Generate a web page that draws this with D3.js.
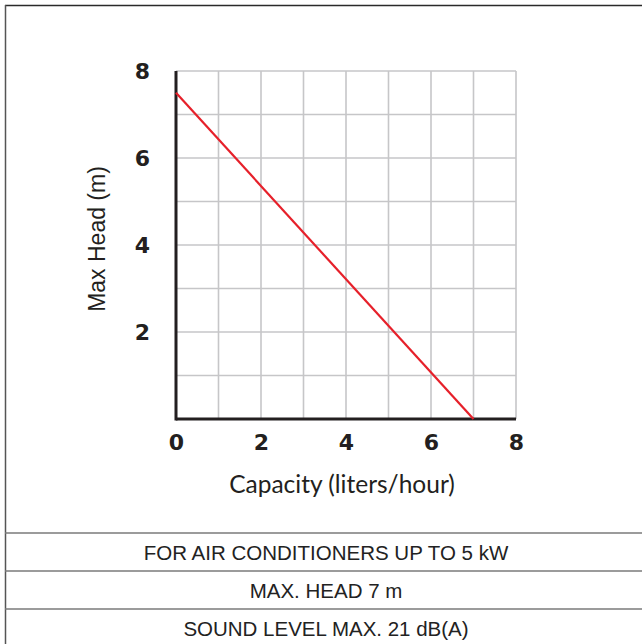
<!DOCTYPE html>
<html><head><meta charset="utf-8">
<script src="https://cdn.jsdelivr.net/npm/d3@7"></script>
<style>body{margin:0;background:#fff}svg{display:block}</style></head>
<body>
<script>
// ---- data ----
const xTickValues = [0, 2, 4, 6, 8];
const yTickValues = [2, 4, 6, 8];
const gridValues = [1, 2, 3, 4, 5, 6, 7, 8];
const capacity = [0, 7];      // liters/hour
const maxHead = [7.5, 0];     // m
const xTitle = "Capacity (liters/hour)";
const yTitle = "Max Head (m)";
const specRows = ["FOR AIR CONDITIONERS UP TO 5 kW", "MAX. HEAD 7 m", "SOUND LEVEL MAX. 21 dB(A)"];

// ---- layout ----
const W = 642, H = 644;
const svg = d3.select("body").append("svg").attr("width", W).attr("height", H);

const x = d3.scaleLinear().domain([0, 8]).range([176, 516]);
const y = d3.scaleLinear().domain([0, 8]).range([419, 71]);

// outer frame
svg.append("line").attr("x1", 5).attr("x2", W).attr("y1", 5.5).attr("y2", 5.5)
  .attr("stroke", "#2a2a2a").attr("stroke-width", 1.5);
svg.append("line").attr("x1", 5.5).attr("x2", 5.5).attr("y1", 5).attr("y2", H)
  .attr("stroke", "#555").attr("stroke-width", 1.5);

// grid
const g = svg.append("g");
g.selectAll("line.vx").data(gridValues).join("line").attr("class", "vx")
  .attr("x1", d => x(d)).attr("x2", d => x(d)).attr("y1", y(8)).attr("y2", y(0))
  .attr("stroke", "#c6c6c8").attr("stroke-width", 1.6);
g.selectAll("line.hy").data(gridValues).join("line").attr("class", "hy")
  .attr("x1", x(0)).attr("x2", x(8)).attr("y1", d => y(d)).attr("y2", d => y(d))
  .attr("stroke", "#c6c6c8").attr("stroke-width", 1.6);

// axes
const tickFont = 22;
const xAxis = d3.axisBottom(x).tickValues(xTickValues).tickSize(0).tickPadding(15);
const yAxis = d3.axisLeft(y).tickValues(yTickValues).tickSize(0).tickPadding(26);
const gx = svg.append("g").attr("transform", `translate(0,${y(0)})`).call(xAxis);
const gy = svg.append("g").attr("transform", `translate(${x(0)},0)`).call(yAxis);
[gx, gy].forEach(a => {
  a.attr("font-size", null).attr("font-family", null);
  a.select(".domain").remove();
  a.selectAll("text")
    .style("font-family", "'DejaVu Sans', sans-serif")
    .style("font-size", tickFont + "px").style("font-weight", "bold").attr("fill", "#231f20");
});
svg.append("line").attr("x1", x(0)).attr("x2", x(0)).attr("y1", y(8)).attr("y2", y(0) + 1.5)
  .attr("stroke", "#231f20").attr("stroke-width", 3);
svg.append("line").attr("x1", x(0)).attr("x2", x(8)).attr("y1", y(0)).attr("y2", y(0))
  .attr("stroke", "#231f20").attr("stroke-width", 3);

// curve
svg.append("path")
  .datum(capacity.map((c, i) => [c, maxHead[i]]))
  .attr("d", d3.line().x(d => x(d[0])).y(d => y(d[1])))
  .attr("fill", "none").attr("stroke", "#e6202a").attr("stroke-width", 2.2);

// titles
svg.append("text").attr("x", 342).attr("y", 493).attr("text-anchor", "middle")
  .style("font-family", "Lato, sans-serif").style("font-size", "24.5px").attr("fill", "#231f20")
  .text(xTitle);
svg.append("text").attr("transform", "translate(105,239) rotate(-90)").attr("text-anchor", "middle")
  .style("font-family", "'Liberation Sans', Arial, sans-serif").style("font-size", "23px").attr("fill", "#231f20")
  .text(yTitle);

// spec table
const rowTops = [533, 571, 609];
svg.selectAll("line.row").data(rowTops).join("line").attr("class", "row")
  .attr("x1", 5).attr("x2", W).attr("y1", d => d).attr("y2", d => d)
  .attr("stroke", "#7a7a7a").attr("stroke-width", 1.5);
svg.selectAll("text.spec").data(specRows).join("text").attr("class", "spec")
  .attr("x", 326).attr("y", (d, i) => rowTops[i] + 27).attr("text-anchor", "middle")
  .style("font-family", "'Liberation Sans', Arial, sans-serif").style("font-size", "20.5px").attr("fill", "#222")
  .text(d => d);
</script>
</body></html>
